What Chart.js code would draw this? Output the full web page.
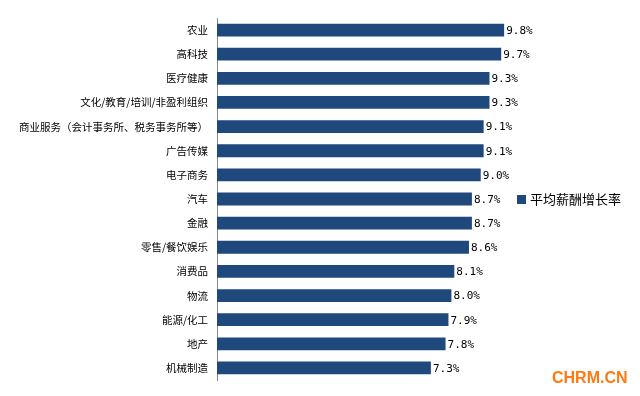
<!DOCTYPE html>
<html>
<head>
<meta charset="utf-8">
<script src="https://cdn.jsdelivr.net/npm/chart.js@4"></script>
<style>
  html, body { margin: 0; padding: 0; background: #fff; }
  #wrap { width: 640px; height: 396px; position: relative; }
</style>
</head>
<body>
<div id="wrap"><canvas id="salaryChart"></canvas></div>
<script>
// industry categories and average salary growth (%)
const industries = [
  '农业', '高科技', '医疗健康', '文化/教育/培训/非盈利组织',
  '商业服务（会计事务所、税务事务所等）', '广告传媒', '电子商务', '汽车',
  '金融', '零售/餐饮娱乐', '消费品', '物流', '能源/化工', '地产', '机械制造'
];
const growthRates = [9.8, 9.7, 9.3, 9.3, 9.1, 9.1, 9.0, 8.7, 8.7, 8.6, 8.1, 8.0, 7.9, 7.8, 7.3];
const seriesName = '平均薪酬增长率';

const barColor = '#1F497D';
const cjkFont = '"Noto Sans CJK SC", "Noto Sans", sans-serif';

// value labels at the end of each bar
const valueLabels = {
  id: 'valueLabels',
  afterDatasetsDraw(chart) {
    const ctx = chart.ctx;
    const meta = chart.getDatasetMeta(0);
    ctx.save();
    ctx.font = '11px "DejaVu Sans Mono", "Liberation Mono", monospace';
    ctx.fillStyle = '#000';
    ctx.textBaseline = 'middle';
    ctx.textAlign = 'left';
    meta.data.forEach((bar, i) => {
      ctx.fillText(growthRates[i].toFixed(1) + '%', bar.x + 2, bar.y + 1);
    });
    ctx.restore();
  }
};

// legend on the right + site mark
const sideLegend = {
  id: 'sideLegend',
  afterDraw(chart) {
    const ctx = chart.ctx;
    ctx.save();
    ctx.fillStyle = barColor;
    ctx.fillRect(517, 195, 9, 9);
    ctx.fillStyle = '#000';
    ctx.font = '13px ' + cjkFont;
    ctx.textBaseline = 'middle';
    ctx.fillText(seriesName, 530, 199.5);
    ctx.fillStyle = '#FF7A12';
    ctx.font = 'bold 16px "Liberation Sans", Arial, sans-serif';
    ctx.textBaseline = 'alphabetic';
    ctx.fillText('CHRM.CN', 552, 383);
    ctx.restore();
  }
};

new Chart(document.getElementById('salaryChart').getContext('2d'), {
  type: 'bar',
  data: {
    labels: industries,
    datasets: [{
      label: seriesName,
      data: growthRates,
      backgroundColor: barColor,
      categoryPercentage: 1,
      barPercentage: 0.53
    }]
  },
  options: {
    indexAxis: 'y',
    responsive: true,
    maintainAspectRatio: false,
    animation: false,
    layout: { padding: { top: 18, bottom: 16, right: 130, left: 0 } },
    plugins: {
      legend: { display: false },
      tooltip: { enabled: false }
    },
    scales: {
      x: { display: false, min: 0, max: 10 },
      y: {
        grid: { display: false, drawTicks: false },
        border: { color: '#868686', width: 1 },
        ticks: {
          color: '#000',
          padding: 9,
          autoSkip: false,
          font: { family: cjkFont, size: 10.5 }
        },
        afterFit(scale) { scale.width = 217; }
      }
    }
  },
  plugins: [valueLabels, sideLegend]
});
</script>
</body>
</html>
